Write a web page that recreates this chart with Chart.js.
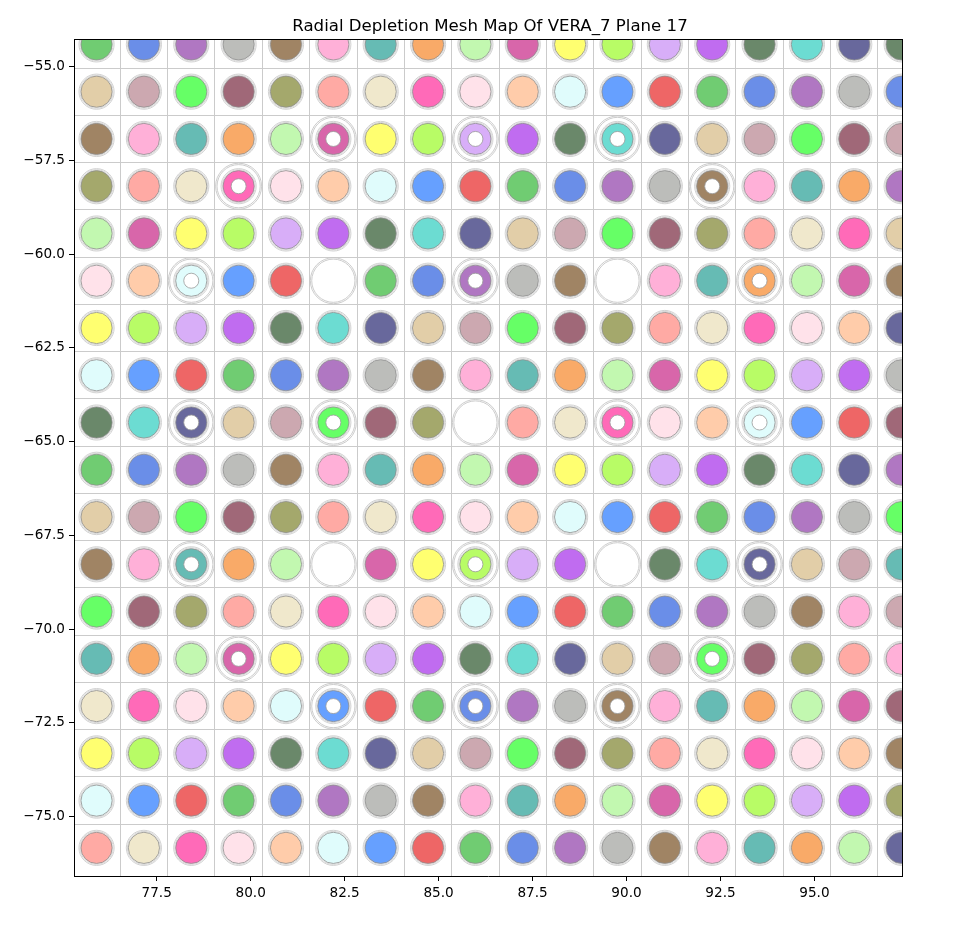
<!DOCTYPE html>
<html><head><meta charset="utf-8">
<script src="https://cdn.jsdelivr.net/npm/chart.js@4.4.1/dist/chart.umd.min.js"></script>
<style>html,body{margin:0;padding:0;background:#fff;}#wrap{width:980px;height:932px;position:relative;}</style>
</head><body><div id="wrap"><canvas id="c"></canvas></div>
<script>
// ---- data ----
const titleText = 'Radial Depletion Mesh Map Of VERA_7 Plane 17';
const colX = [75.90, 77.16, 78.42, 79.68, 80.94, 82.20, 83.46, 84.72, 85.98, 87.24, 88.50, 89.76, 91.02, 92.28, 93.54, 94.80, 96.06, 97.32];
const rowY = [-54.41, -55.67, -56.93, -58.19, -59.45, -60.71, -61.97, -63.23, -64.49, -65.75, -67.01, -68.27, -69.53, -70.79, -72.05, -73.31, -74.57, -75.83];
const xTicks = [77.5, 80.0, 82.5, 85.0, 87.5, 90.0, 92.5, 95.0];
const yTicks = [-55.0, -57.5, -60.0, -62.5, -65.0, -67.5, -70.0, -72.5, -75.0];
const xRange = [75.30, 97.33];
const yRange = [-76.58, -54.29];
// region colour index per cell (null = empty guide tube)
const pinRows = [
  [0,1,2,3,4,5,6,7,8,9,10,11,12,13,14,15,16,14],
  [17,18,19,20,21,22,23,24,25,26,27,28,29,0,1,2,3,1],
  [4,5,6,7,8,9,10,11,12,13,14,15,16,17,18,19,20,18],
  [21,22,23,24,25,26,27,28,29,0,1,2,3,4,5,6,7,2],
  [8,9,10,11,12,13,14,15,16,17,18,19,20,21,22,23,24,17],
  [25,26,27,28,29,null,0,1,2,3,4,null,5,6,7,8,9,4],
  [10,11,12,13,14,15,16,17,18,19,20,21,22,23,24,25,26,16],
  [27,28,29,0,1,2,3,4,5,6,7,8,9,10,11,12,13,3],
  [14,15,16,17,18,19,20,21,null,22,23,24,25,26,27,28,29,20],
  [0,1,2,3,4,5,6,7,8,9,10,11,12,13,14,15,16,2],
  [17,18,19,20,21,22,23,24,25,26,27,28,29,0,1,2,3,19],
  [4,5,6,7,8,null,9,10,11,12,13,null,14,15,16,17,18,6],
  [19,20,21,22,23,24,25,26,27,28,29,0,1,2,3,4,5,18],
  [6,7,8,9,10,11,12,13,14,15,16,17,18,19,20,21,22,5],
  [23,24,25,26,27,28,29,0,1,2,3,4,5,6,7,8,9,20],
  [10,11,12,13,14,15,16,17,18,19,20,21,22,23,24,25,26,4],
  [27,28,29,0,1,2,3,4,5,6,7,8,9,10,11,12,13,21],
  [22,23,24,25,26,27,28,29,0,1,2,3,4,5,6,7,8,16]
];
// guide tube cells [row, col]
const tubeCells = [[2,5],[2,8],[2,11],[3,3],[3,13],[5,2],[5,5],[5,8],[5,11],[5,14],[8,2],[8,5],[8,8],[8,11],[8,14],[11,2],[11,5],[11,8],[11,11],[11,14],[13,3],[13,13],[14,5],[14,8],[14,11]];
const palette = ['#70cc72','#6a8ee8','#b077c2','#bcbdba','#a08464','#ffb0d8','#66bbb4','#f9aa68','#c2f8b0','#d866aa',
                 '#ffff70','#b8fc66','#d8aef8','#c06cf0','#6a886a','#6cdcd2','#68689c','#e2cea8','#cca8b0','#66ff66',
                 '#a06878','#a4a86c','#ffaaa4','#f0e8cc','#ff6ab8','#ffe2ea','#ffccaa','#e0fcfc','#66a0ff','#ee6666'];

// ---- build ----
const meshX = colX.slice(1).map((v,i)=> (v + colX[i]) / 2);
const meshY = rowY.slice(1).map((v,i)=> (v + rowY[i]) / 2);
const isTube = (r,c) => tubeCells.some(t => t[0]===r && t[1]===c);
const pins = [], tubes = [], holes = [];
pinRows.forEach((row, r) => row.forEach((ci, c) => {
  const p = {x: colX[c], y: rowY[r], c: ci};
  if (isTube(r,c)) { tubes.push(p); if (ci !== null) holes.push(p); }
  if (ci !== null) pins.push(p);
}));
function rad(r){ return ctx => { const s = ctx.chart.scales.x; return r * Math.abs(s.getPixelForValue(1) - s.getPixelForValue(0)); }; }
function ringSet(data, r, color, order){
  return {data, parsing:false, order, clip:0, pointRadius: rad(r), pointHoverRadius: rad(r),
          pointBackgroundColor:'rgba(0,0,0,0)', pointBorderColor: color, pointBorderWidth: 0.9, showLine:false};
}
Chart.defaults.font.family = 'DejaVu Sans';
Chart.defaults.color = '#000';
const tickFont = {family:'DejaVu Sans', size: 13.6};
const fmt = v => (v < 0 ? '\u2212' : '') + Math.abs(v).toFixed(1);
new Chart(document.getElementById('c'), {
  type: 'scatter',
  data: { datasets: [
    ringSet(tubes, 0.612, '#c6c6c6', 8),
    ringSet(tubes, 0.575, '#c6c6c6', 7),
    ringSet(pins, 0.468, '#cdcdcd', 6),
    ringSet(pins, 0.44, '#d2d2d2', 5),
    {data: pins, parsing:false, order: 2, clip:0, pointRadius: rad(0.415), pointHoverRadius: rad(0.415),
     pointBackgroundColor: ctx => palette[ctx.raw.c], pointBorderColor:'#8e8e8e', pointBorderWidth:0.8, showLine:false},
    {data: holes, parsing:false, order: 1, clip:0, pointRadius: rad(0.2), pointHoverRadius: rad(0.2),
     pointBackgroundColor:'#ffffff', pointBorderColor:'#999999', pointBorderWidth:0.8, showLine:false}
  ]},
  options: {
    responsive: true, maintainAspectRatio: false, animation: false, events: [],
    layout: {padding: 0},
    plugins: {
      legend: {display:false}, tooltip: {enabled:false},
      title: {display:true, text: titleText, color:'#000', font:{family:'DejaVu Sans', size:16.6, weight:'normal'}, padding:{top:17, bottom:3}}
    },
    scales: {
      x: {type:'linear', position:'bottom', min:xRange[0], max:xRange[1], z:1,
          afterBuildTicks: a => { a.ticks = xTicks.map(v => ({value:v})); },
          afterFit: a => { a.height = 56; },
          ticks: {callback: v => fmt(v), font: tickFont, color:'#000', padding: 4, maxRotation:0, autoSkip:false},
          grid: {display:true, drawOnChartArea:false, drawTicks:true, tickLength:5, tickWidth:1, color:'#000'},
          border: {display:true, color:'#000', width:1}},
      xm: {type:'linear', position:'bottom', min:xRange[0], max:xRange[1], z:0,
          afterBuildTicks: a => { a.ticks = meshX.map(v => ({value:v})); },
          afterFit: a => { a.height = 0; },
          ticks: {display:false}, grid: {display:true, drawTicks:false, color:'#cbcbcb', lineWidth:1}, border:{display:false}},
      x2: {type:'linear', position:'top', min:xRange[0], max:xRange[1], z:1,
          afterFit: a => { a.height = 0; },
          ticks:{display:false}, grid:{display:false}, border:{display:true, color:'#000', width:1}},
      y: {type:'linear', position:'left', min:yRange[0], max:yRange[1], z:1,
          afterBuildTicks: a => { a.ticks = yTicks.map(v => ({value:v})); },
          afterFit: a => { a.width = 74; },
          ticks: {callback: v => fmt(v), font: tickFont, color:'#000', padding: 4, autoSkip:false},
          grid: {display:true, drawOnChartArea:false, drawTicks:true, tickLength:5, tickWidth:1, color:'#000'},
          border: {display:true, color:'#000', width:1}},
      ym: {type:'linear', position:'left', min:yRange[0], max:yRange[1], z:0,
          afterBuildTicks: a => { a.ticks = meshY.map(v => ({value:v})); },
          afterFit: a => { a.width = 0; },
          ticks: {display:false}, grid: {display:true, drawTicks:false, color:'#cbcbcb', lineWidth:1}, border:{display:false}},
      y2: {type:'linear', position:'right', min:yRange[0], max:yRange[1], z:1,
          afterFit: a => { a.width = 78; },
          ticks:{display:false}, grid:{display:false}, border:{display:true, color:'#000', width:1}}
    }
  }
});
</script></body></html>
